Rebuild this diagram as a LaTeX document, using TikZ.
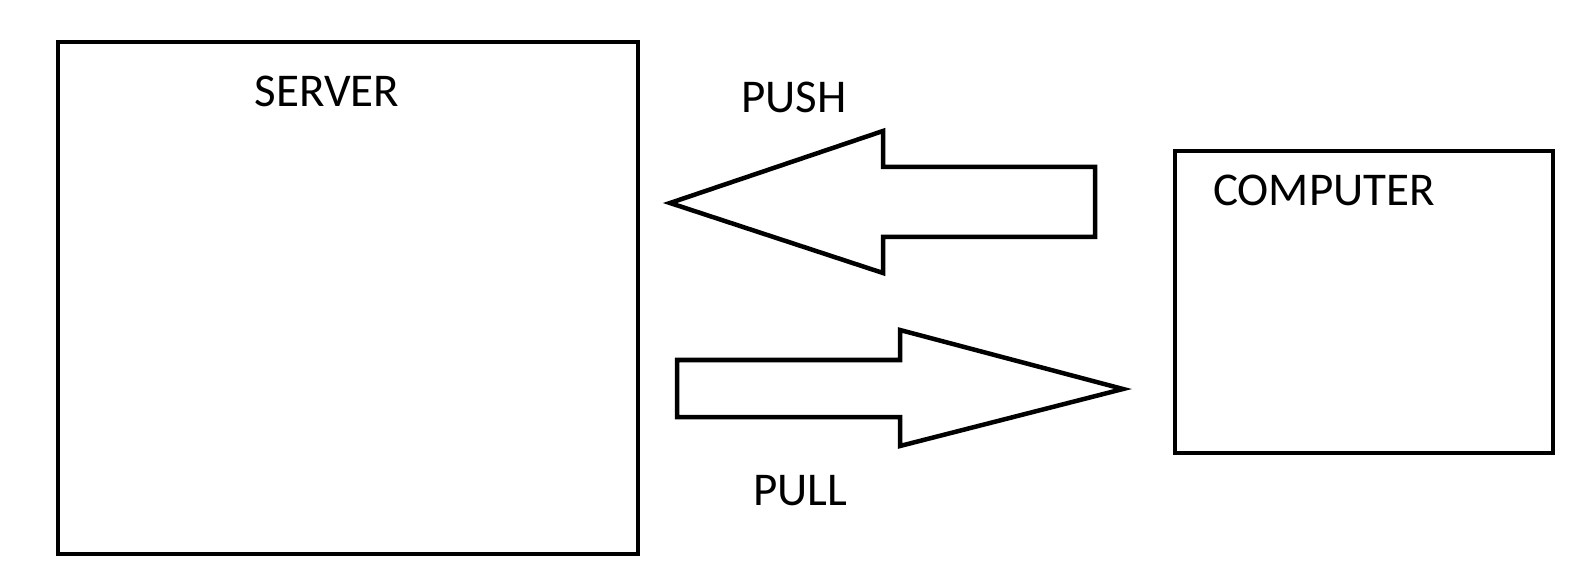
\documentclass[tikz,border=0pt]{standalone}
\usepackage{fontspec}
\setmainfont{Carlito}
\begin{document}
\begin{tikzpicture}[x=1pt, y=-1pt, line width=4.5pt,
    font=\fontsize{47}{56}\selectfont]
        \useasboundingbox (0,0) rectangle (1580,585);
        \node[draw, minimum width=580pt, minimum height=512pt, inner sep=0pt]
        (server) at (348,298) {};
        \node (serverlbl) at (327,91) {SERVER};
        \node[draw, minimum width=378pt, minimum height=302pt, inner sep=0pt]
        (computer) at (1364,302) {};
        \node (computerlbl) at (1324,190) {COMPUTER};

        \draw (670,203) -- (883,131) -- (883,167) -- (1095,167)
        -- (1095,237) -- (883,237) -- (883,273) -- cycle;
        \node (push) at (794,97) {PUSH};

        \draw (677,360) -- (900,360) -- (900,330) -- (1123,389)
        -- (900,446) -- (900,417) -- (677,417) -- cycle;
        \node (pull) at (800,491) {PULL};
    \end{tikzpicture}
\end{document}
